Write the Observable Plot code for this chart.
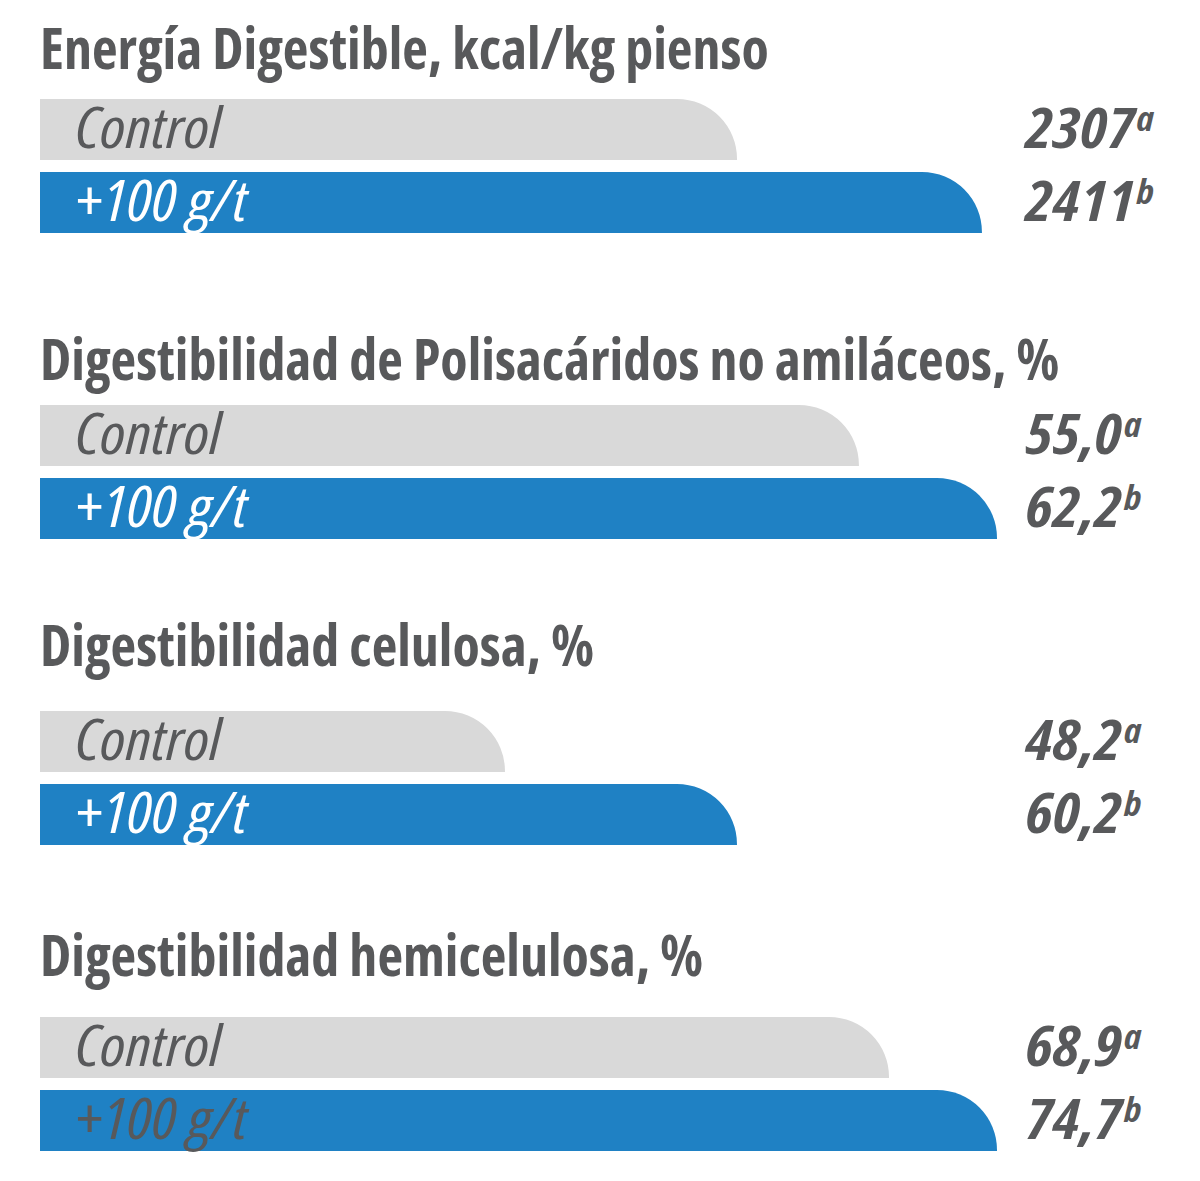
<!DOCTYPE html>
<html>
<head>
<meta charset="utf-8">
<script src="https://cdn.jsdelivr.net/npm/d3@7"></script>
<script src="https://cdn.jsdelivr.net/npm/@observablehq/plot@0.6"></script>
<style>
  html, body { margin: 0; padding: 0; background: #fff; }
  #chart { position: relative; width: 1200px; height: 1181px; overflow: hidden; }
  .panel { position: absolute; left: 0; width: 1200px; height: 306px; }
  .panel h2 {
    position: absolute; left: 40px; margin: 0;
    font-family: "Open Sans", "Roboto Condensed", sans-serif;
    font-weight: 700; font-stretch: 75%;
    font-size: 58px; line-height: 58px;
    color: #58595b; white-space: nowrap;
    transform: scaleX(0.965); transform-origin: 0 0;
  }
  .panel svg { position: absolute; left: 0; top: 98px; overflow: visible; font-stretch: 75%; }
</style>
</head>
<body>
<div id="chart"></div>
<script>
// Panel titles and measured values
const titles = [
  "Energía Digestible, kcal/kg pienso",
  "Digestibilidad de Polisacáridos no amiláceos, %",
  "Digestibilidad celulosa, %",
  "Digestibilidad hemicelulosa, %"
];
const groups = ["Control", "+100 g/t"];
const controlValues = [2307, 55.0, 48.2, 68.9];
const treatedValues = [2411, 62.2, 60.2, 74.7];
const controlLetters = ["a", "a", "a", "a"];
const treatedLetters = ["b", "b", "b", "b"];
const decimals = [0, 1, 1, 1];
// Each panel has its own value axis (not starting at zero)
const axisFrom = [2011, 12.3, 24.15, 23.3];
const axisTo = [2417.4, 62.2, 73.65, 74.7];

// Layout and styling
const panelTop = [0, 306, 612, 918];
const titleTop = [18, 23, 3, 7];
const textGray = "#58595b";
const barColors = ["#d9d9d9", "#1f81c4"];
const treatedLabelFill = ["#ffffff", "#ffffff", "#ffffff", textGray];
const font = '"Open Sans", "Roboto Condensed", sans-serif';
const cornerRadius = 60;
const textWiden = 1.12;

const chart = document.getElementById("chart");

titles.forEach((title, i) => {
  const rows = groups.map((g, j) => ({
    group: g,
    value: j ? treatedValues[i] : controlValues[i],
    letter: j ? treatedLetters[i] : controlLetters[i]
  }));
  const fmt = (v) => v.toFixed(decimals[i]).replace(".", ",");

  const panel = document.createElement("div");
  panel.className = "panel";
  panel.style.top = panelTop[i] + "px";
  const h2 = document.createElement("h2");
  h2.textContent = title;
  h2.style.top = titleTop[i] + "px";
  panel.appendChild(h2);

  const labelStyle = {
    y: "group", text: "group", frameAnchor: "left", dx: 35, textAnchor: "start",
    fontSize: 57, fontWeight: 400, fontStyle: "italic", fontFamily: font
  };

  const svg = Plot.plot({
    width: 1200,
    height: 138,
    marginTop: 0, marginBottom: 2, marginLeft: 40, marginRight: 203,
    x: {domain: [axisFrom[i], axisTo[i]], axis: null},
    y: {domain: groups, axis: null, paddingInner: 0.16, paddingOuter: 0},
    color: {domain: groups, range: barColors},
    marks: [
      Plot.barX(rows, {
        x1: axisFrom[i], x2: "value", y: "group", fill: "group", rx2y1: cornerRadius
      }),
      Plot.text(rows.slice(0, 1), {...labelStyle, fill: textGray}),
      Plot.text(rows.slice(1), {...labelStyle, fill: treatedLabelFill[i]}),
      Plot.text(rows, {
        y: "group", text: (d) => fmt(d.value), frameAnchor: "right", dx: 28,
        textAnchor: "start", fontSize: 56, fontWeight: 700, fontStyle: "italic",
        fontFamily: font, fill: textGray
      })
    ]
  });

  const root = d3.select(svg);

  // Rounded top-right corner (fallback for builds without per-corner radii)
  root.selectAll('g[aria-label="bar"] rect').each(function () {
    const x = +this.getAttribute("x"), y = +this.getAttribute("y");
    const w = +this.getAttribute("width"), h = +this.getAttribute("height");
    const r = Math.min(cornerRadius, w, h);
    const path = document.createElementNS("http://www.w3.org/2000/svg", "path");
    for (const a of this.attributes) {
      if (!["x", "y", "width", "height"].includes(a.name)) path.setAttribute(a.name, a.value);
    }
    path.setAttribute("d", `M${x},${y}H${x + w - r}A${r},${r} 0 0 1 ${x + w},${y + r}V${y + h}H${x}Z`);
    this.replaceWith(path);
  });

  // Text layers in mark order: control label, treated label, values
  const textLayers = root.selectAll('g[aria-label="text"]').nodes();

  // Slightly wider glyphs for labels and values
  textLayers.forEach((g) => {
    d3.select(g).selectAll("text").each(function () {
      const t = this.getAttribute("transform") || "";
      this.setAttribute("transform", `${t} scale(${textWiden},1)`);
    });
  });

  // Significance letters as superscripts
  d3.select(textLayers[2]).selectAll("text").each(function (_, k) {
    d3.select(this).append("tspan")
      .attr("font-size", 34)
      .attr("dx", 2)
      .attr("dy", "-0.5em")
      .text(rows[k].letter);
  });

  panel.appendChild(svg);
  chart.appendChild(panel);
});
</script>
</body>
</html>
